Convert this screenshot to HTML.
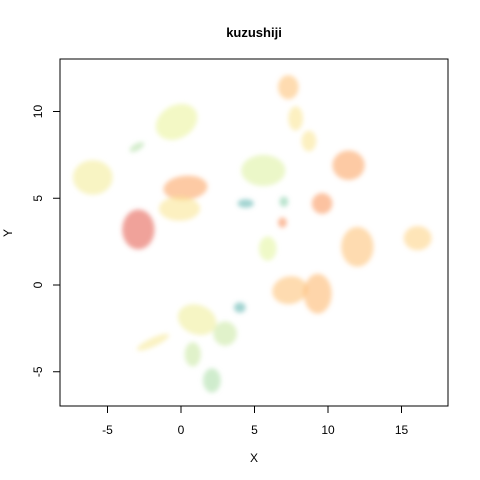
<!DOCTYPE html>
<html><head><meta charset="utf-8"><style>
body{margin:0;background:#fff;}
svg{display:block;font-family:"Liberation Sans",Arial,sans-serif;}
</style></head><body>
<svg id="chart" width="480" height="480" viewBox="0 0 480 480">
<defs><filter id="blur" x="-50%" y="-50%" width="200%" height="200%"><feGaussianBlur stdDeviation="2.5"/></filter></defs>
<text x="254" y="37" text-anchor="middle" font-size="13" font-weight="bold">kuzushiji</text>
<g id="marks" filter="url(#blur)"></g>
<rect x="60" y="59" width="388" height="347" fill="none" stroke="#000" stroke-width="1"/>
<g id="axes"></g>
<text x="254" y="462" text-anchor="middle" font-size="12">X</text>
<text x="12" y="233" text-anchor="middle" font-size="12" transform="rotate(-90 12 233)">Y</text>
</svg>
<script>
const xTicks=[-5,0,5,10,15];
const yTicks=[-5,0,5,10];
// cluster data (data coords): centers, spreads, rotation, color value (0=red .. 1=teal)
const clusterX=[-0.3,-6.0,0.3,-0.1,-2.9,7.3,7.8,8.7,11.4,5.6,4.4,7.0,9.6,12.0,16.1,5.9,7.4,9.3,1.1,3.0,0.8,2.1,-1.9,4.0,-3.0,6.9];
const clusterY=[9.4,6.2,5.6,4.4,3.2,11.4,9.6,8.3,6.9,6.6,4.7,4.8,4.7,2.2,2.7,2.1,-0.3,-0.5,-2.0,-2.8,-4.0,-5.5,-3.3,-1.3,7.95,3.6];
const clusterRX=[1.5,1.35,1.5,1.4,1.1,0.7,0.5,0.5,1.1,1.5,0.55,0.3,0.7,1.1,0.95,0.6,1.2,0.95,1.35,0.8,0.55,0.6,1.2,0.4,0.55,0.3];
const clusterRY=[0.95,1.0,0.7,0.7,1.15,0.7,0.7,0.6,0.85,0.9,0.25,0.3,0.6,1.15,0.7,0.7,0.8,1.15,0.85,0.7,0.7,0.7,0.25,0.3,0.2,0.3];
const clusterRot=[-30,0,-5,0,0,0,0,0,0,0,0,0,0,0,0,0,-10,0,20,0,0,0,-25,0,-30,0];
const clusterVal=[0.55,0.5,0.25,0.45,0.07,0.33,0.45,0.45,0.25,0.6,0.9,0.8,0.22,0.33,0.38,0.58,0.33,0.3,0.52,0.65,0.65,0.72,0.48,0.9,0.7,0.2];
const xs=v=>181+(v)*14.7, ys=v=>285-(v)*17.35;
const pal=['#d53e4f','#f46d43','#fdae61','#fee08b','#e6f598','#abdda4','#66c2a5','#3288bd'];
function col(t){const i=Math.min(pal.length-2,Math.floor(t*(pal.length-1)));const f=t*(pal.length-1)-i;
 const a=pal[i],b=pal[i+1];const p=s=>[1,3,5].map(k=>parseInt(s.substr(k,2),16));
 const A=p(a),B=p(b);return 'rgb('+A.map((v,k)=>Math.round(v+(B[k]-v)*f)).join(',')+')';}
const NS='http://www.w3.org/2000/svg';
const g=document.getElementById('marks');
clusterX.forEach((cx,i)=>{
 const e=document.createElementNS(NS,'ellipse');
 
 
 const px=xs(cx),py=ys(clusterY[i]);
 e.setAttribute('cx',px);e.setAttribute('cy',py);
 e.setAttribute('rx',clusterRX[i]*14.7);e.setAttribute('ry',clusterRY[i]*17.35);
 e.setAttribute('transform','rotate('+clusterRot[i]+' '+px+' '+py+')');
 e.setAttribute('fill',col(clusterVal[i]));e.setAttribute('fill-opacity','0.55');
 g.appendChild(e);
});
const ax=document.getElementById('axes');
xTicks.forEach(t=>{
 const l=document.createElementNS(NS,'line');
 
 
 l.setAttribute('x1',xs(t));l.setAttribute('x2',xs(t));l.setAttribute('y1',406);l.setAttribute('y2',413);l.setAttribute('stroke','#000');
 ax.appendChild(l);
 const s=document.createElementNS(NS,'text');
 
 
 s.setAttribute('x',xs(t));s.setAttribute('y',434);s.setAttribute('text-anchor','middle');s.setAttribute('font-size','12');
 s.textContent=t;ax.appendChild(s);
});
yTicks.forEach(t=>{
 const l=document.createElementNS(NS,'line');
 
 
 l.setAttribute('x1',53);l.setAttribute('x2',60);l.setAttribute('y1',ys(t));l.setAttribute('y2',ys(t));l.setAttribute('stroke','#000');
 ax.appendChild(l);
 const s=document.createElementNS(NS,'text');
 
 
 const X=42,Y=ys(t);
 s.setAttribute('x',X);s.setAttribute('y',Y);s.setAttribute('text-anchor','middle');s.setAttribute('font-size','12');
 s.setAttribute('transform','rotate(-90 '+X+' '+Y+')');
 s.textContent=t;ax.appendChild(s);
});
</script>
</body></html>
